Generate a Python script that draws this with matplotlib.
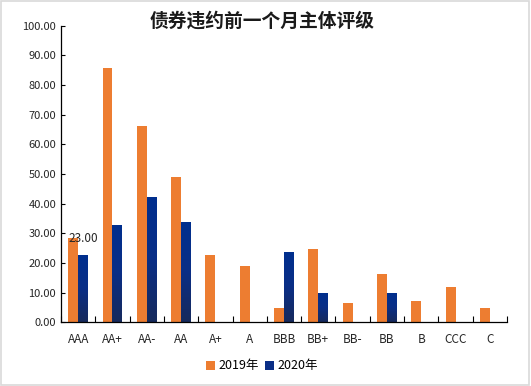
import matplotlib
matplotlib.use("Agg")
import matplotlib.pyplot as plt
import numpy as np
from matplotlib.patches import Rectangle
from matplotlib.colors import LinearSegmentedColormap

plt.rcParams['font.family'] = ['Noto Sans CJK SC', 'DejaVu Sans']

categories = ["AAA", "AA+", "AA-", "AA", "A+", "A", "BBB", "BB+", "BB-", "BB", "B", "CCC", "C"]
v2019 = [28.5, 85.6, 66.3, 49.0, 22.7, 19.0, 4.8, 24.8, 6.5, 16.3, 7.2, 11.9, 4.8]
v2020 = [22.7, 32.8, 42.2, 33.8, 0, 0, 23.7, 9.9, 0, 9.9, 0, 0, 0]
series_names = ["2019年", "2020年"]
title = "债券违约前一个月主体评级"
yticks = np.arange(0, 101, 10)
label_text = "23.00"

fig = plt.figure(figsize=(5.31, 3.86), dpi=100)
fig.patches.append(Rectangle((0.002, 0.003), 0.995, 0.994, transform=fig.transFigure,
                             fill=False, edgecolor='#d9d9d9', linewidth=1.2))
ax = fig.add_axes([61/531, 1-322.3/386, (507-61)/531, (322.3-25.6)/386])

x = np.arange(len(categories))
w = 0.29
ax.bar(x - w/2, v2019, w, color='#ED7D31', label=series_names[0])
bars20 = ax.bar(x + w/2, v2020, w, color='#0A2E86', label=series_names[1])

# vertical gradient on the 2020 bars
cmap = LinearSegmentedColormap.from_list('navy', ['#172A5C', '#0A2E86', '#002F8E'])
grad = np.linspace(0, 1, 256).reshape(-1, 1)
for b in bars20:
    h = b.get_height()
    if h <= 0:
        continue
    x0 = b.get_x()
    bw = b.get_width()
    im = ax.imshow(grad, extent=[x0, x0 + bw, 0, h], origin='lower', cmap=cmap,
                   aspect='auto', zorder=b.get_zorder() + 0.1)
    im.set_clip_path(b)

ax.text(x[0] + w/2, v2020[0] + 3.5, label_text, ha='center', va='bottom', fontsize=8.5, color='#262626')

ax.set_xlim(-0.5, len(categories) - 0.5)
ax.set_ylim(0, 100)
ax.set_yticks(yticks)
ax.set_yticklabels([f"{t:.2f}" for t in yticks], fontsize=8, color='#262626')
ax.set_xticks(np.arange(len(categories) + 1) - 0.5, minor=False)
ax.set_xticklabels([])
ax.set_xticks(x, minor=True)
ax.set_xticklabels(categories, minor=True, fontsize=8.5, color='#262626')
ax.tick_params(axis='x', which='minor', length=0, pad=8)
ax.tick_params(axis='x', which='major', direction='in', length=4, width=0.8)
ax.tick_params(axis='y', direction='in', length=3, width=0.8)
for s in ['top', 'right']:
    ax.spines[s].set_visible(False)
for s in ['left', 'bottom']:
    ax.spines[s].set_color('black')
    ax.spines[s].set_linewidth(0.9)

fig.text(262/531, 1-21/386, title, ha='center', va='center', fontsize=13.5, fontweight='bold', color='#1a1a1a')
fig.legend(loc='center', bbox_to_anchor=(262/531, 1-366/386), ncol=2, frameon=False,
           fontsize=9, handlelength=0.7, handleheight=0.7, handletextpad=0.3, columnspacing=0.5)

fig.savefig("out.png", dpi=100)
